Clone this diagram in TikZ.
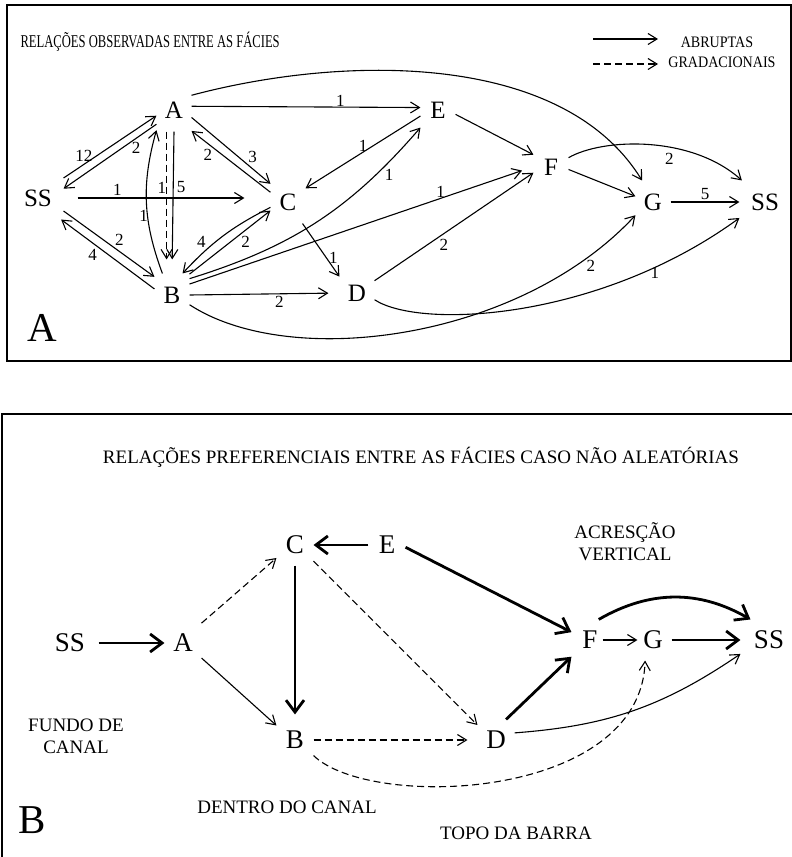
\documentclass[tikz,border=0pt]{standalone}
\usepackage{fontspec}
\setmainfont{Liberation Serif}
\newfontfamily\estreita[FakeStretch=0.7]{Liberation Serif}
\newfontfamily\legfont[FakeStretch=0.88]{Liberation Serif}
\usetikzlibrary{arrows.meta}

\begin{document}
\begin{tikzpicture}[x=1pt,y=-1pt,line width=1.1pt,
  >={Straight Barb[length=9pt,width=11pt]},
  fac/.style={inner sep=0pt,minimum width=34pt,minimum height=42pt,font=\fontsize{25}{25}\selectfont},
  facss/.style={fac,minimum width=50pt},
  facb/.style={inner sep=0pt,minimum width=36pt,minimum height=40pt,font=\fontsize{27}{27}\selectfont},
  facbss/.style={facb,minimum width=56pt},
  num/.style={font=\fontsize{17}{17}\selectfont,inner sep=1pt},
  grad/.style={dash pattern=on 7pt off 4pt},
  forte/.style={line width=2.8pt,-{Straight Barb[length=12pt,width=18pt]}},
  legenda/.style={font=\legfont\fontsize{16}{16}\selectfont,inner sep=0pt},
  texto/.style={font=\fontsize{19}{22}\selectfont,align=center,inner sep=0pt},
  painel/.style={font=\fontsize{41}{41}\selectfont,inner sep=0pt}]
\useasboundingbox (0,0) rectangle (792,857);

% quadro A
\draw[line width=1.3pt] (7,5) rectangle (791,361);
\node[anchor=west,inner sep=0pt,font=\estreita\fontsize{18}{18}\selectfont] (titA) at (20,42) {RELAÇÕES OBSERVADAS ENTRE AS FÁCIES};
\coordinate (l1a) at (593,39);
\coordinate (l1b) at (658,39);
\coordinate (l2a) at (593,64);
\coordinate (l2b) at (658,64);
\draw[->] (l1a) -- (l1b);
\draw[->,grad] (l2a) -- (l2b);
\node[legenda] (abr) at (717,42) {ABRUPTAS};
\node[legenda] (gra) at (722,62) {GRADACIONAIS};
\node[painel] (pA) at (42,328) {A};

\node[facss] (ssA) at (38,198) {SS};
\node[fac] (aA) at (174,110) {A};
\node[fac] (bA) at (172,295) {B};
\node[fac] (cA) at (288,202) {C};
\node[fac] (dA) at (357,293) {D};
\node[fac] (eA) at (438,110) {E};
\node[fac] (fA) at (551,167) {F};
\node[fac] (gA) at (653,202) {G};
\node[facss] (ssB) at (765,202) {SS};

\draw[->] (ssA.38) -- (aA.198) node[num,pos=.22,above=1pt] {12};
\draw[->] (aA.219) -- (ssA.20) node[num,pos=.22,below=2pt] {2};
\draw[->,shorten <=14pt,shorten >=26pt] (ssA.east) -- (ssA.east -| cA.west) node[num,pos=.26,above=1pt] {1};
\draw[->,grad,shorten >=14pt] (aA.251) -- (aA.251 |- bA.north) node[num,pos=.4,left=-1pt] {1};
\draw[->,shorten >=14pt] (aA.south) -- (bA.north) node[num,pos=.39,right=2pt] {5};
\draw[->] (bA.114) to[bend left=18] node[num,pos=.4,left=-2pt] {1} (aA.229);
\draw[->] (ssA.333) -- (bA.134) node[num,pos=.55,above right=0pt] {2};
\draw[->] (bA.161) -- (ssA.317) node[num,pos=.6,below left=0pt] {4};
\draw[->] (aA.337) -- (cA.134) node[num,pos=.7,above right=0pt] {3};
\draw[->] (cA.151) -- (aA.310) node[num,pos=.72,below left=0pt] {2};
\draw[->] (cA.197) to[bend right=10] node[num,pos=.7,above left=0pt] {4} (bA.64);
\draw[->] (bA.50) -- (cA.206) node[num,pos=.62,below right=0pt] {2};
\draw[->] (bA.43) to[bend right=16] node[num,pos=.82,below right=0pt] {1} (eA.225);
\draw[->] (eA.199) -- (cA.38) node[num,pos=.5,above=-1pt] {1};
\draw[->,shorten >=12pt] (bA.32) -- (fA.179) node[num,pos=.73,above=-1pt] {1};
\draw[->] (dA.35) -- (fA.198) node[num,pos=.4,below right=0pt] {2};
\draw[->] (cA.304) -- (dA.137) node[num,pos=.65,right=1pt] {1};
\draw[->] (aA.12) -- (eA.172) node[num,pos=.65,above=-1pt] {1};
\draw[->,shorten >=11pt] (bA.east) -- (dA.west) node[num,pos=.6,below=1pt] {2};
\draw[->] (aA.40) .. controls +(150,-40) and +(-80,-130) .. (gA.117);
\draw[->] (eA.346) -- (fA.145);
\draw[->] (fA.352) -- (gA.162);
\draw[->] (fA.28) .. controls +(35,-20) and +(-50,-45) .. node[num,pos=.6,below=4pt] {2} (ssB.137);
\draw[->] (gA.east) -- (ssB.west) node[num,pos=.5,above=1pt] {5};
\draw[->] (bA.331) .. controls +(101,66) and +(-116,125) .. node[num,pos=.87,below right=0pt] {2} (gA.217);
\draw[->] (dA.339) .. controls +(46,30) and +(-140,102) .. node[num,pos=.8,below right=-3pt] {1} (ssB.212);

% quadro B
\draw[line width=1.3pt] (795,414) -- (2,414) -- (2,860);
\node[texto] (titB) at (421,457) {RELAÇÕES PREFERENCIAIS ENTRE AS FÁCIES CASO NÃO ALEATÓRIAS};
\node[texto] (acr) at (625,542) {ACRESÇÃO\\VERTICAL};
\node[texto] (fun) at (76,736) {FUNDO DE\\CANAL};
\node[texto] (den) at (287,807) {DENTRO DO CANAL};
\node[texto] (top) at (516,833) {TOPO DA BARRA};
\node[painel] (pB) at (32,820) {B};

\node[facbss] (ssC) at (70,643) {SS};
\node[facb] (aB) at (183,643) {A};
\node[facb] (cB) at (295,545) {C};
\node[facb] (eB) at (387,545) {E};
\node[facb] (bB) at (295,740) {B};
\node[facb] (dB) at (496,740) {D};
\node[facb] (fB) at (590,640) {F};
\node[facb] (gB) at (653,640) {G};
\node[facbss] (ssD) at (769,640) {SS};

\draw[forte] (ssC.east) -- (aB.west);
\draw[->,grad] (aB.47) -- (cB.215);
\draw[->] (aB.321) -- (bB.142);
\draw[forte,shorten >=5pt] (cB.south) -- (bB.north);
\draw[forte] (eB.west) -- (cB.east);
\draw[->,grad] (cB.319) -- (dB.141);
\draw[->,grad,shorten >=10pt] (bB.east) -- (dB.west);
\draw[->,grad] (bB.320) .. controls +(57,55) and +(-5,140) .. (gB.249);
\draw[forte] (eB.353) -- (fB.157);
\draw[forte] (dB.64) -- (fB.222);
\draw[->] (dB.21) to[bend right=15] (ssD.206);
\draw[->,shorten <=-6pt,shorten >=-3pt] (fB.east) -- (gB.west);
\draw[forte] (gB.east) -- (ssD.west);
\draw[forte] (fB.67) to[bend left=30] (ssD.132);
\end{tikzpicture}
\end{document}
